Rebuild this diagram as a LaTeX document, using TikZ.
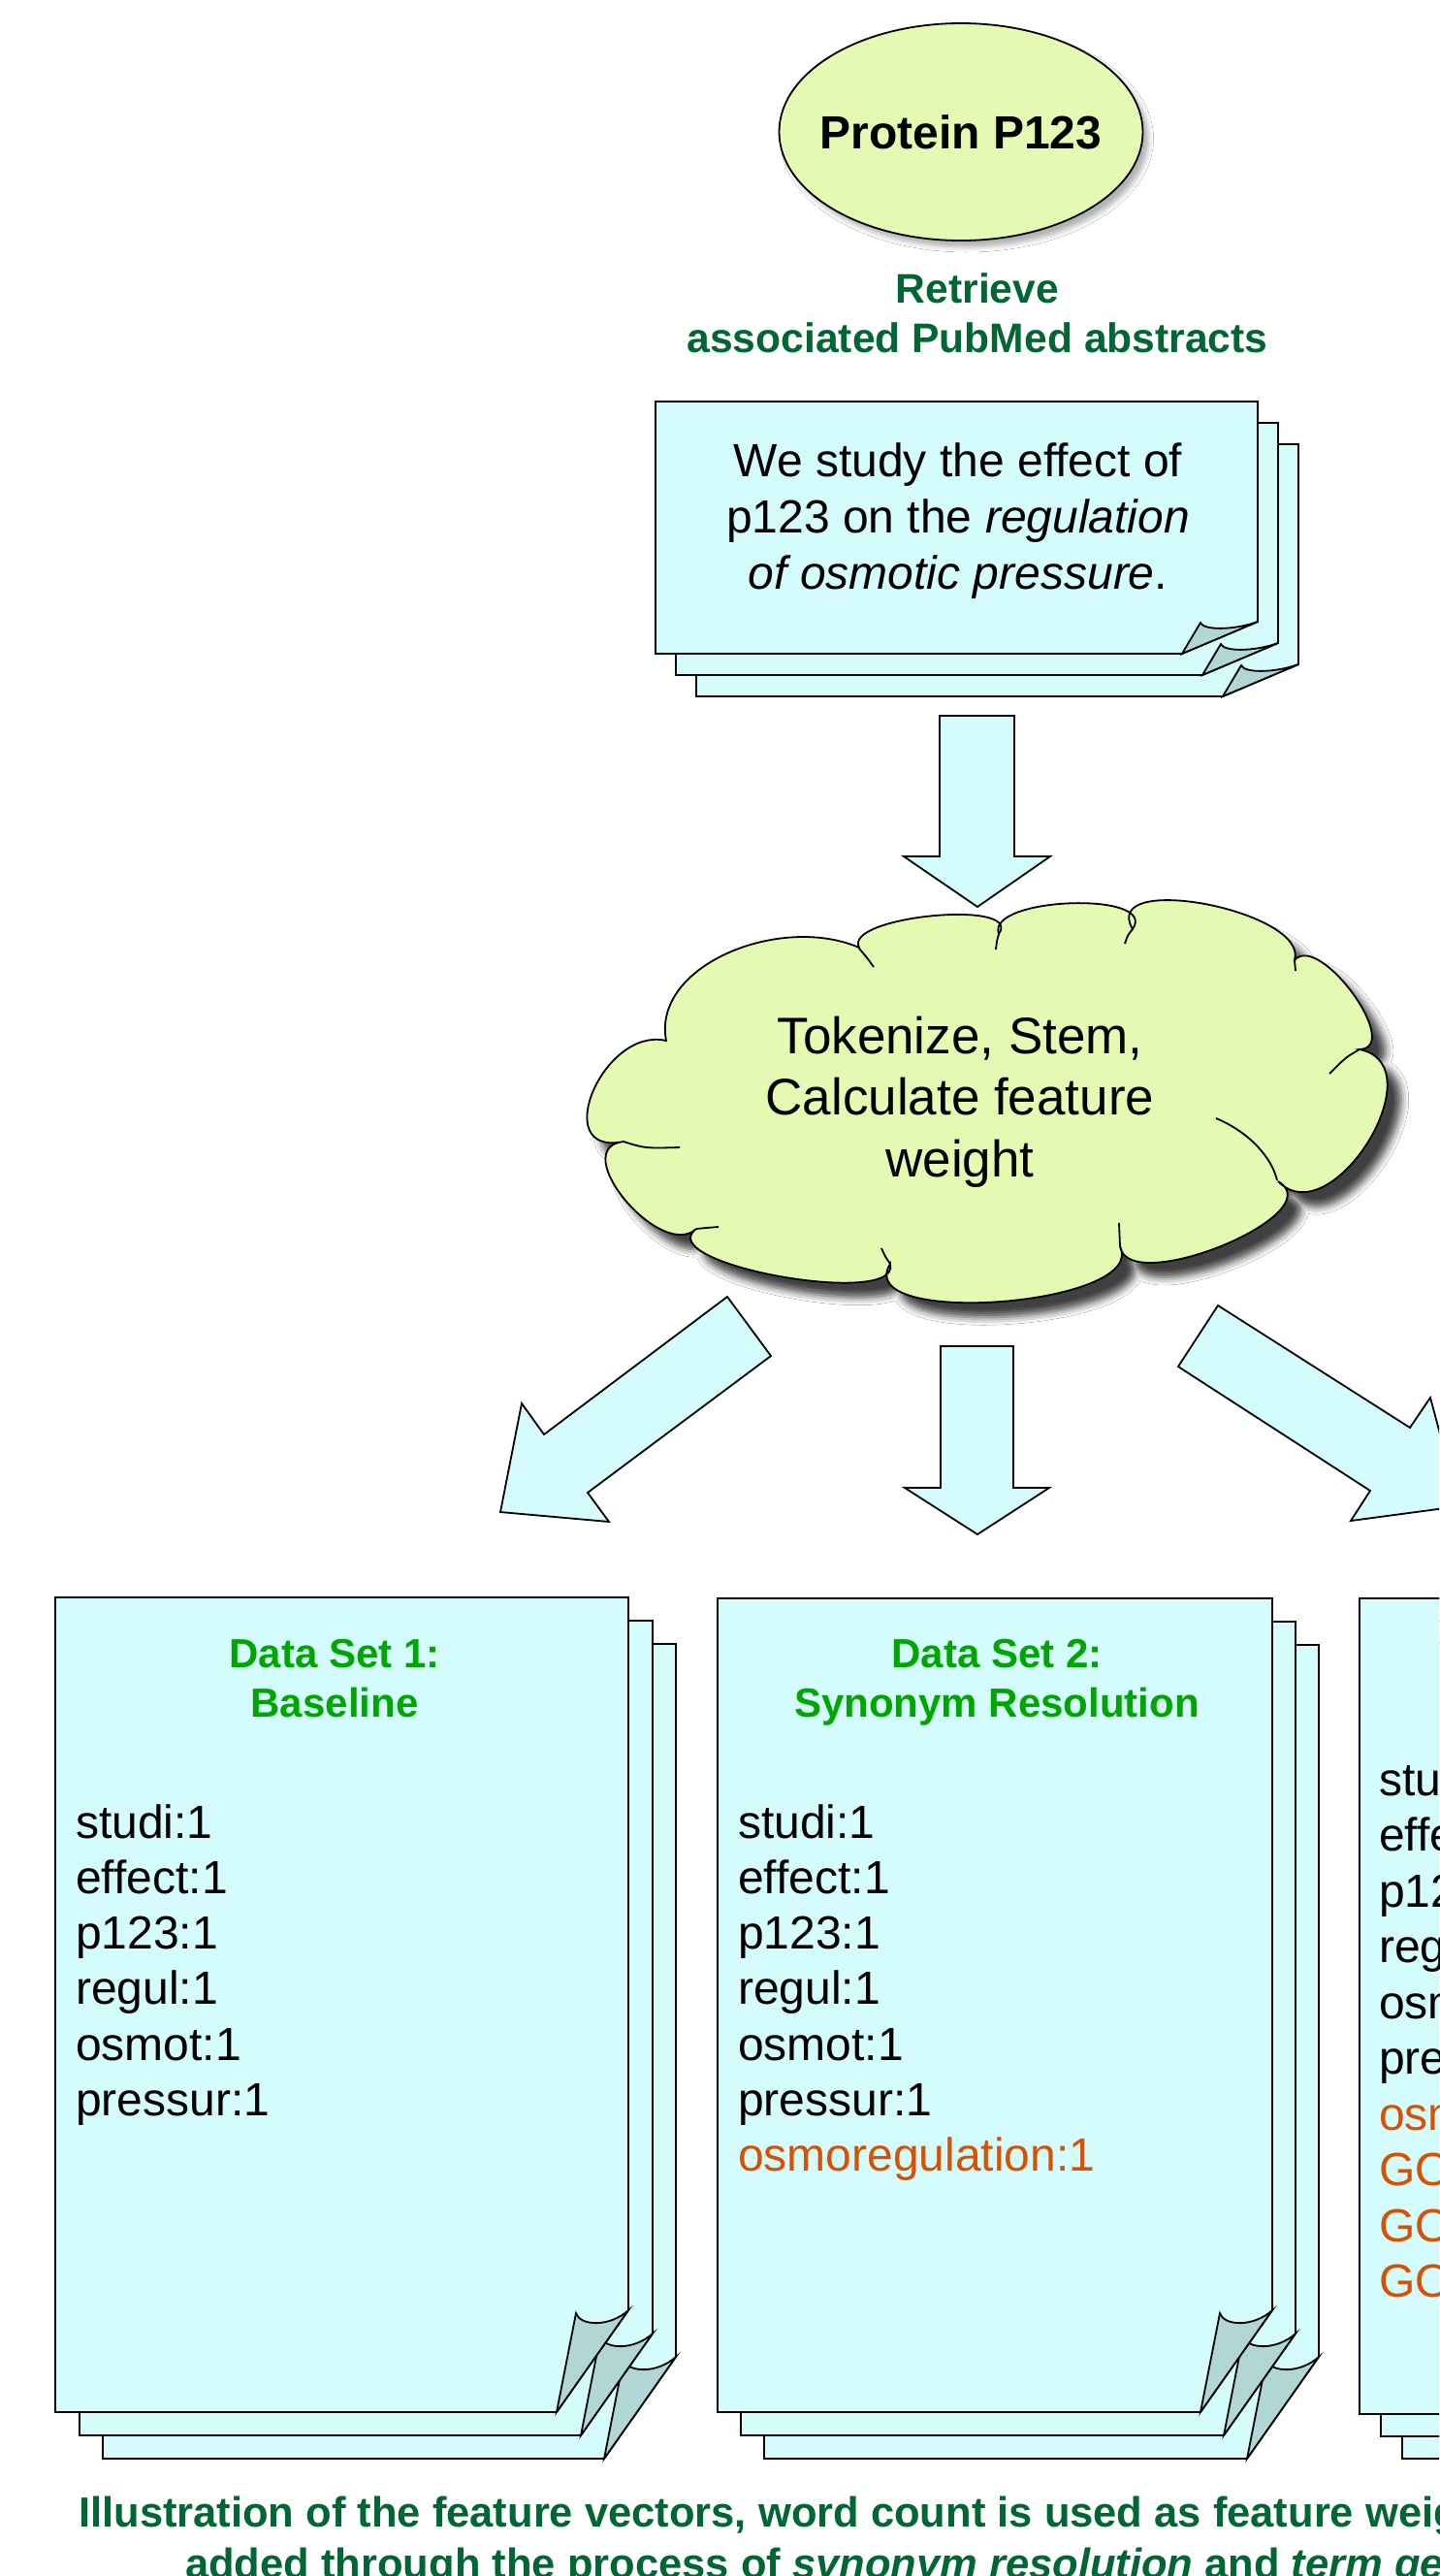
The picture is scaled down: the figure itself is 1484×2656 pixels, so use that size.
\documentclass[tikz,border=0pt]{standalone}
\usepackage{fontspec}
\setmainfont{Liberation Sans}
\usetikzlibrary{shapes.geometric,calc,shadows.blur}
\definecolor{yelfill}{RGB}{228,250,178}
\definecolor{cyanfill}{RGB}{212,252,252}
\definecolor{flapfill}{RGB}{176,214,214}
\definecolor{dkgreen}{RGB}{0,102,51}
\definecolor{brgreen}{RGB}{0,166,0}
\definecolor{orng}{RGB}{217,80,0}
\tikzset{
  outl/.style={draw=black, line width=1.8pt, line join=miter},
  pagestyle/.style={outl, fill=cyanfill},
  flapstyle/.style={outl, fill=flapfill},
  arrowshape/.style={outl, fill=cyanfill},
  txt/.style={inner sep=0pt, anchor=base},
  abstxt/.style={txt, font=\fontsize{48}{57.5}\selectfont},
  dgtxt/.style={txt, text=dkgreen, font=\fontsize{42.6}{51}\selectfont\bfseries},
  cloudtxt/.style={txt, font=\fontsize{53}{63}\selectfont},
  titletxt/.style={txt, text=brgreen, font=\fontsize{42}{51}\selectfont\bfseries},
  listtxt/.style={inner sep=0pt, anchor=base west, font=\fontsize{48}{57.5}\selectfont},
  captxt/.style={inner sep=0pt, anchor=base west, text=dkgreen, font=\fontsize{43.5}{51}\selectfont\bfseries},
  pics/toppage/.style 2 args={code={
    \path[pagestyle] (0,0) -- (#1,0) -- (#1,#2-33) -- (#1-78,#2) -- (0,#2) -- cycle;
    \path[flapstyle] (#1-78,#2) -- (#1-59,#2-32) .. controls (#1-56,#2-24) and (#1-25,#2-24) .. (#1,#2-33) -- cycle;
  }},
  pics/bigpage/.style 2 args={code={
    \path[pagestyle] (0,0) -- (#1,0) -- (#1,#2-105) -- (#1-74,#2) -- (0,#2) -- cycle;
    \path[flapstyle] (#1-74,#2) -- (#1-54,#2-102) .. controls (#1-50,#2-89) and (#1-20,#2-87) .. (#1,#2-105) -- cycle;
  }}
}
\begin{document}
\begin{tikzpicture}[x=1pt,y=-1pt]
\useasboundingbox (0,0) rectangle (1484,2656);
\fill[white] (0,0) rectangle (1484,2656);
\clip (0,0) rectangle (1484,2656);

% protein ellipse
\node[ellipse, outl, fill=yelfill, minimum width=375pt, minimum height=224pt, inner sep=0pt,
  blur shadow={shadow xshift=6pt, shadow yshift=-7pt, shadow blur radius=5pt, shadow opacity=30}] (protein) at (991,136) {};
\node[inner sep=0pt, font=\fontsize{48}{57.5}\selectfont\bfseries] (proteinlbl) at (protein.center) {Protein P123};

\node[dgtxt] (ret1) at (1008,312) {Retrieve};
\node[dgtxt] (ret2) at (1008,363) {associated PubMed abstracts};

% abstract stack
\pic at (718,458) {toppage={621}{260}};
\pic at (697,436) {toppage={621}{260}};
\pic at (676,414) {toppage={621}{260}};
\node[abstxt] (abs1) at (988,491) {We study the effect of};
\node[abstxt] (abs2) at (988,549) {p123 on the \textit{regulation}};
\node[abstxt] (abs3) at (988,607) {\textit{of osmotic pressure}.};

% arrow to cloud
\draw[arrowshape] (969,738) -- (1046,738) -- (1046,883) -- (1083,883) -- (1008,935) -- (932,883) -- (969,883) -- cycle;

% cloud
\path[outl, fill=yelfill, blur shadow={shadow xshift=14pt, shadow yshift=-15pt, shadow blur radius=8pt, shadow opacity=75}]
 (687,1073) .. controls (672,995) and (805,942) .. (886,977)
 .. controls (868.7,944.8) and (1055.9,926.6) .. (1030,963)
 .. controls (1016.2,924.8) and (1195.6,918.3) .. (1168,958)
 .. controls (1133,897.6) and (1350.1,939.2) .. (1335,990)
 .. controls (1360.3,960.5) and (1447.4,1080.1) .. (1402,1082)
 .. controls (1482.6,1097.8) and (1373.4,1274.6) .. (1318,1218)
 .. controls (1375.2,1251.4) and (1163.3,1338.5) .. (1155,1285)
 .. controls (1184.9,1346.3) and (876.8,1369.7) .. (918,1303)
 .. controls (929.9,1349.8) and (669.9,1303) .. (718,1267)
 .. controls (681.3,1300.7) and (583.8,1183.7) .. (643,1177)
 .. controls (565.1,1192.9) and (622.3,1057.7) .. (687,1073) -- cycle;
\draw[outl] (886,978) .. controls (893,986) .. (901,997);
\draw[outl] (1030,963) .. controls (1028,970) .. (1027,979);
\draw[outl] (1168,958) .. controls (1163,964) .. (1160,973);
\draw[outl] (1335,990) .. controls (1336,995) .. (1336,1001);
\draw[outl] (1402,1082) .. controls (1388,1090) .. (1371,1107);
\draw[outl] (1254,1153) .. controls (1290,1168) and (1312,1195) .. (1317,1217);
\draw[outl] (1155,1285) .. controls (1155,1273) .. (1154,1261);
\draw[outl] (918,1303) .. controls (913,1296) .. (909,1287);
\draw[outl] (718,1267) .. controls (728,1266) .. (741,1265);
\draw[outl] (643,1177) .. controls (665,1184) .. (701,1183);
\node[cloudtxt] (cl1) at (990,1086) {Tokenize, Stem,};
\node[cloudtxt] (cl2) at (990,1149) {Calculate feature};
\node[cloudtxt] (cl3) at (990,1213) {weight};

% three arrows
\draw[arrowshape] (750,1337) -- (795,1398) -- (606,1539) -- (628,1569) -- (516,1559) -- (538,1447) -- (561,1479) -- cycle;
\draw[arrowshape] (970,1388) -- (1045,1388) -- (1045,1534) -- (1082,1534) -- (1008,1582) -- (933,1534) -- (970,1534) -- cycle;
\draw[arrowshape] (1256,1346) -- (1454,1472) -- (1475,1441) -- (1505,1553) -- (1393,1568) -- (1413,1537) -- (1215,1409) -- cycle;

% data set 1
\pic at (106,1695) {bigpage={591}{840}};
\pic at (82,1671) {bigpage={591}{840}};
\pic at (57,1647) {bigpage={591}{840}};
\node[titletxt] (t1a) at (345,1719) {Data Set 1:};
\node[titletxt] (t1b) at (345,1770) {Baseline};
\foreach \w [count=\i] in {studi:1, effect:1, p123:1, regul:1, osmot:1, pressur:1}
  \node[listtxt] (da\i) at (78,{1895+57.3*(\i-1)}) {\w};

% data set 2
\pic at (788,1696) {bigpage={572}{839}};
\pic at (764,1672) {bigpage={572}{839}};
\pic at (740,1648) {bigpage={572}{839}};
\node[titletxt] (t2a) at (1028,1719) {Data Set 2:};
\node[titletxt] (t2b) at (1028,1770) {Synonym Resolution};
\foreach \w/\c [count=\i] in {studi:1/black, effect:1/black, p123:1/black, regul:1/black, osmot:1/black, pressur:1/black, osmoregulation:1/orng}
  \node[listtxt, text=\c] (db\i) at (761,{1895+57.3*(\i-1)}) {\w};

% data set 3 (cut off)
\pic at (1446,1694) {bigpage={580}{841}};
\pic at (1424,1671) {bigpage={580}{841}};
\pic at (1402,1648) {bigpage={580}{841}};
\foreach \w/\c [count=\i] in {studi:1/black, effect:1/black, p123:1/black, regul:1/black, osmot:1/black, pressur:1/black, osmoregulation:1/orng, GO/orng, GO/orng, GO/orng}
  \node[listtxt, text=\c] (dc\i) at (1422,{1851+57.5*(\i-1)}) {\w};

% caption
\node[captxt] (cap1) at (81,2605) {Illustration of the feature vectors, word count is used as feature weight};
\node[captxt] (cap2) at (191,2658) {added through the process of \textit{synonym resolution} and \textit{term generalization}};
\end{tikzpicture}
\end{document}
